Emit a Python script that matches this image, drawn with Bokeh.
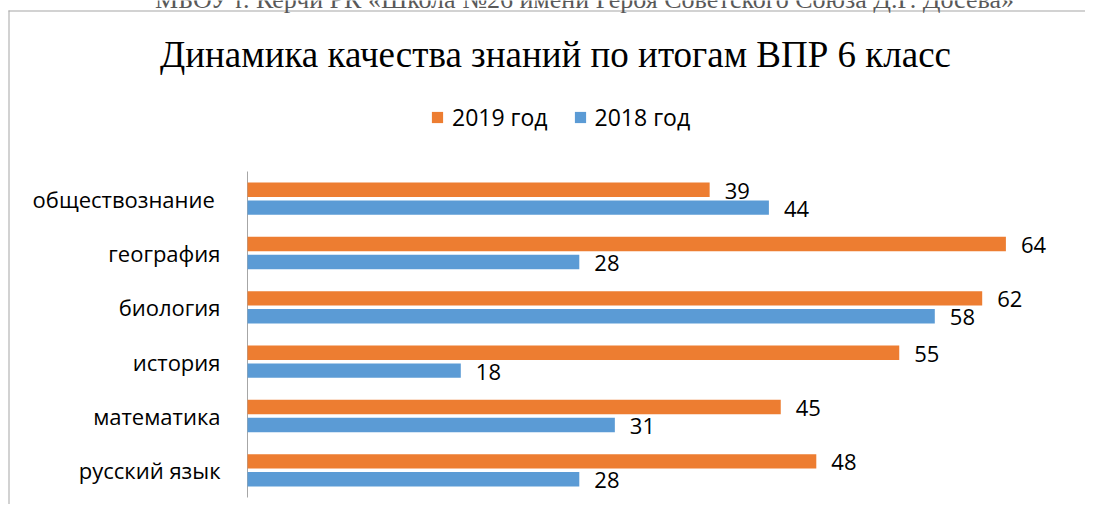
from bokeh.plotting import figure
from bokeh.models import Range1d, Label, Legend, LegendItem, ColumnDataSource
from bokeh.transform import dodge
from bokeh.embed import file_html
from bokeh.resources import INLINE
from bokeh.core.properties import value

# ---- data ----
subjects = ["русский язык", "математика", "история", "биология", "география", "обществознание"]
values_2019 = [48, 45, 55, 62, 64, 39]
values_2018 = [28, 31, 18, 58, 28, 44]
series_names = ["2019 год", "2018 год"]
title_text = "Динамика качества знаний по итогам ВПР 6 класс"
header_text = "МБОУ г. Керчи РК «Школа №26 имени Героя Советского Союза Д.Г. Досева»"

# ---- layout (picture px) ----
W, H = 1085, 504
FL, FT, FB = 247, 171, 497    # bar area: left (value 0), top, bottom
PX = 11.85                    # px per value unit
n = len(subjects)
PY = (FB - FT) / n            # px per category
ORANGE = "#ED7D31"
BLUE = "#5B9BD5"
GRAY = "#a6a6a6"
FONT = "Open Sans"
OFF, BH = 0.165, 0.265


def dx(px):
    return (px - FL) / PX


def dy(py):
    return (FB - py) / PY


src = ColumnDataSource(dict(
    pos=[i + 0.5 for i in range(n)],
    lab=[s + ("\u00a0" if s == "обществознание" else "") for s in subjects],
    v19=values_2019, v18=values_2018,
    t19=[str(v) for v in values_2019], t18=[str(v) for v in values_2018],
))

p = figure(width=W, height=H,
           x_range=Range1d(dx(0), dx(W)), y_range=Range1d(dy(H), dy(0)),
           x_axis_location=None, y_axis_location=None,
           output_backend="svg", toolbar_location=None, min_border=0)
p.outline_line_color = None
p.grid.visible = False
p.background_fill_color = "white"
p.border_fill_color = "white"

# chart-area border (top and left edges; the rest lies outside the picture)
p.quad(left=[dx(8), dx(8)], right=[dx(W + 20), dx(9)],
       top=[dy(10), dy(10)], bottom=[dy(11), dy(H + 20)],
       fill_color=GRAY, line_color=None)

# category axis line + labels
p.segment(x0=0, y0=0, x1=0, y1=n, line_color=GRAY, line_width=1)
p.text(x=0, y="pos", text="lab", x_offset=-27, text_align="right", text_baseline="middle",
       text_font=value(FONT), text_font_size="22px", text_color="black", source=src)

r19 = p.hbar(y=dodge("pos", OFF), left=0, right="v19", height=BH,
             fill_color=ORANGE, line_color=None, source=src)
r18 = p.hbar(y=dodge("pos", -OFF), left=0, right="v18", height=BH,
             fill_color=BLUE, line_color=None, source=src)

for col, off in (("19", OFF), ("18", -OFF)):
    p.text(x="v" + col, y=dodge("pos", off), text="t" + col,
           x_offset=15, y_offset=1, text_baseline="middle", text_align="left",
           text_font=value(FONT), text_font_size="22px", text_color="black", source=src)

legend = Legend(items=[LegendItem(label=series_names[0], renderers=[r19]),
                       LegendItem(label=series_names[1], renderers=[r18])],
                orientation="horizontal", location=(430, H - 133),
                glyph_width=14, glyph_height=14, label_standoff=8, spacing=25,
                padding=0, margin=0, border_line_color=None, background_fill_alpha=0,
                label_text_font=FONT, label_text_font_size="23px", label_text_color="black")
p.add_layout(legend)

p.add_layout(Label(x=555, y=H - 54, x_units="screen", y_units="screen",
                   text=title_text, text_align="center", text_baseline="alphabetic",
                   text_font="Liberation Serif", text_font_size="37px", text_color="black"))
p.add_layout(Label(x=584, y=H + 1, x_units="screen", y_units="screen",
                   text=header_text, text_align="center", text_baseline="alphabetic",
                   text_font="Liberation Serif", text_font_size="26px", text_color="#595959"))

open("out.html", "w").write(file_html(p, INLINE))
